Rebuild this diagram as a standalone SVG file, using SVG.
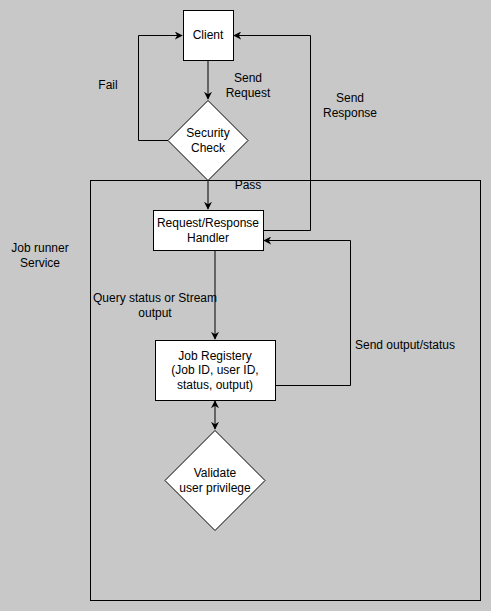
<svg xmlns="http://www.w3.org/2000/svg" width="491" height="611" viewBox="0 0 491 611">
<style>
text{font-family:"Liberation Sans",Arial,sans-serif;font-size:12px;fill:#000;text-anchor:middle}
.box{fill:#fff;stroke:#000;stroke-width:1}
.edge{fill:none;stroke:#000;stroke-width:1}
</style>
<defs>
<marker id="arr" viewBox="0 0 10 10" refX="9" refY="5" markerWidth="8" markerHeight="8" markerUnits="userSpaceOnUse" orient="auto-start-reverse">
<path d="M0,0 L10,5 L0,10 L3,5 Z" fill="#000"/>
</marker>
</defs>
<rect width="491" height="611" fill="#c8c8c8"/>
<g id="container">
<rect x="90.5" y="180.5" width="390" height="420" fill="none" stroke="#000"/>
<text x="40" y="252">Job runner</text>
<text x="40" y="267">Service</text>
</g>
<g id="connectors">
<path class="edge" d="M208,60 V99" marker-end="url(#arr)"/>
<path class="edge" d="M168,140.5 H138.5 V35.5 H182" marker-end="url(#arr)"/>
<path class="edge" d="M208,180 V209" marker-end="url(#arr)"/>
<path class="edge" d="M263,230.5 H310.5 V35.5 H234" marker-end="url(#arr)"/>
<path class="edge" d="M215,250 V339" marker-end="url(#arr)"/>
<path class="edge" d="M275,385.5 H350.5 V240.5 H264" marker-end="url(#arr)"/>
<path class="edge" d="M215,401 V429" marker-start="url(#arr)" marker-end="url(#arr)"/>
<text x="248" y="82">Send</text>
<text x="248" y="97">Request</text>
<text x="108" y="89">Fail</text>
<text x="248" y="189">Pass</text>
<text x="350" y="102">Send</text>
<text x="350" y="117">Response</text>
<text x="155" y="302">Query status or Stream</text>
<text x="155" y="317">output</text>
<text x="405" y="349">Send output/status</text>
</g>
<g id="client">
<rect class="box" x="183.5" y="10.5" width="50" height="50"/>
<text x="208" y="39">Client</text>
</g>
<g id="security">
<path class="box" d="M208,100.5 L248,140.5 L208,180.5 L168,140.5 Z"/>
<text x="208" y="137">Security</text>
<text x="208" y="152">Check</text>
</g>
<g id="handler">
<rect class="box" x="153.5" y="210.5" width="110" height="40"/>
<text x="208" y="227">Request/Response</text>
<text x="208" y="242">Handler</text>
</g>
<g id="registry">
<rect class="box" x="155.5" y="340.5" width="120" height="60"/>
<text x="215" y="360">Job Registery</text>
<text x="215" y="374">(Job ID, user ID,</text>
<text x="215" y="389">status, output)</text>
</g>
<g id="validate">
<path class="box" d="M215,430.5 L265,480.5 L215,530.5 L165,480.5 Z"/>
<text x="215" y="477">Validate</text>
<text x="215" y="492">user privilege</text>
</g>
</svg>
